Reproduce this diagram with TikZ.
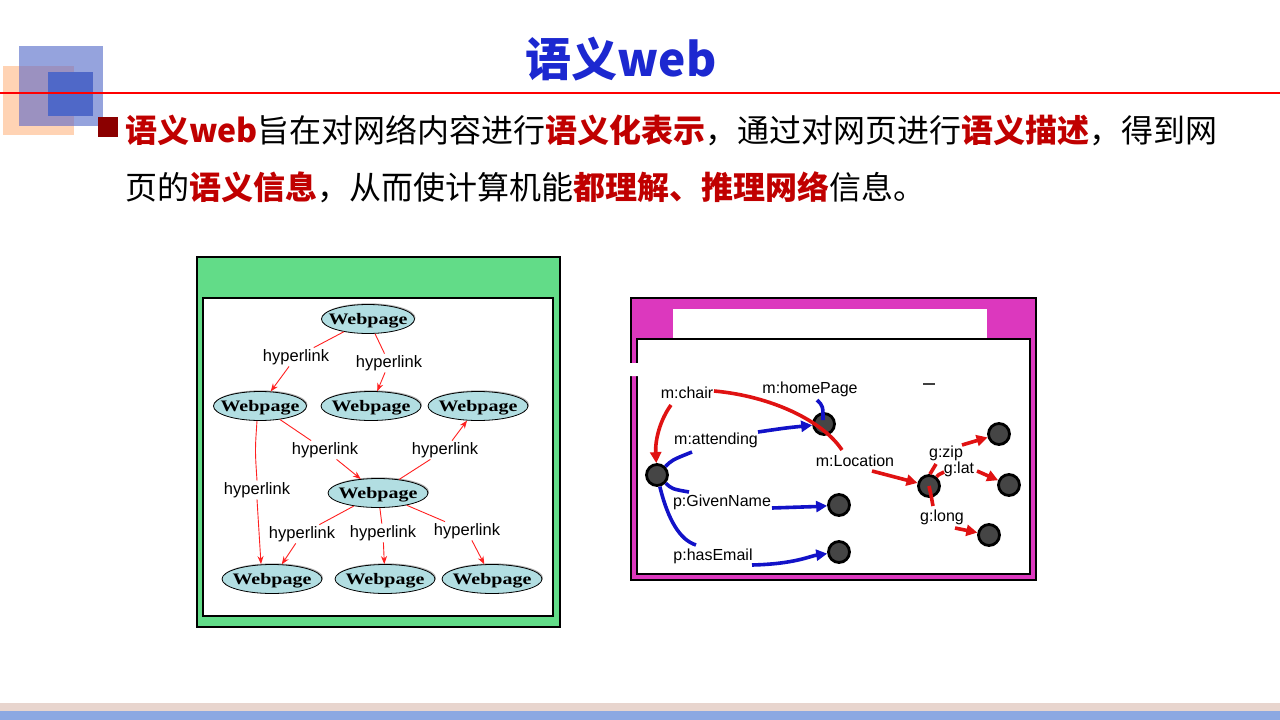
\documentclass[tikz,border=0pt]{standalone}
\usepackage{fontspec}
\usepackage{graphicx}
\setmainfont{Noto Sans CJK SC}
\newfontfamily\arialf{Liberation Sans}
\newfontfamily\serifb{Liberation Serif}
\usetikzlibrary{arrows.meta,shapes.geometric,shadows,calc}

\definecolor{titleblue}{HTML}{1C28D0}
\definecolor{keyred}{HTML}{C00000}
\definecolor{bulletred}{HTML}{8B0000}
\definecolor{peach}{HTML}{FFD3B4}
\definecolor{lightblue}{HTML}{95A3DD}
\definecolor{mixblue}{HTML}{9B91C0}
\definecolor{darkblue}{HTML}{4F68C8}
\definecolor{panelgreen}{HTML}{62DC88}
\definecolor{panelmagenta}{HTML}{DC38BE}
\definecolor{pagefill}{HTML}{B2DEE2}
\definecolor{linkred}{HTML}{FF2020}
\definecolor{rdfred}{HTML}{E01212}
\definecolor{rdfblue}{HTML}{1212C8}
\definecolor{nodegray}{HTML}{454545}
\definecolor{barbeige}{HTML}{E8D5CE}
\definecolor{barblue}{HTML}{8CA8E2}

\tikzset{
  page/.style={ellipse, draw=black, line width=0.8pt, fill=pagefill,
    minimum height=29pt, inner sep=0pt,
    drop shadow={shadow xshift=1pt, shadow yshift=1.2pt, opacity=0.6},
    font=\serifb\bfseries\fontsize{16}{16}\selectfont},
  linklabel/.style={inner sep=1.5pt, font=\arialf\fontsize{16.5}{16.5}\selectfont},
  link/.style={draw=linkred, line width=0.9pt},
  linkarrow/.style={link, -{Stealth[length=8pt,width=6pt]}},
  rdfnode/.style={circle, fill=nodegray, draw=black, line width=2.8pt,
    minimum size=21pt, inner sep=0pt},
  rdflabel/.style={inner sep=0pt, font=\arialf\fontsize{16}{16}\selectfont},
  redlink/.style={draw=rdfred, line width=3.6pt},
  bluelink/.style={draw=rdfblue, line width=3.6pt},
  tip/.style={-{Triangle[length=11pt,width=11pt]}},
  bodytext/.style={anchor=base west, inner sep=0pt, font=\fontsize{32}{32}\selectfont},
}

% label of a page node: an empty box, so the ellipse keeps its given size
% and the capitals sit on the ellipse's centre line
\newcommand{\webpage}{\makebox[0pt]{\raisebox{-5pt}[0pt][0pt]{\scalebox{1.25}[1]{Webpage}}}}
\newcommand{\key}[1]{\textcolor{keyred}{\bfseries #1}}

\begin{document}
\begin{tikzpicture}[x=1pt,y=-1pt]
\useasboundingbox (0,0) rectangle (1280,720);
\fill[white] (0,0) rectangle (1280,720);

% corner ornament
\fill[peach] (3,66) rectangle (74,135);
\fill[lightblue] (19,46) rectangle (103,126);
\fill[mixblue] (19,66) rectangle (74,126);
\fill[darkblue] (48,72) rectangle (93,116);
\draw[red, line width=2.6pt] (0,93) -- (1280,93);

% title
\node[font=\fontsize{46}{46}\selectfont\bfseries, text=titleblue] (title) at (621,59) {语义web};

% bullet text
\fill[bulletred] (98,117) rectangle (118,137);
\node[bodytext] (line1) at (125,142)
  {\key{语义web}旨在对网络内容进行\key{语义化表示}，通过对网页进行\key{语义描述}，得到网};
\node[bodytext] (line2) at (125,199)
  {页的\key{语义信息}，从而使计算机能\key{都理解、推理网络}信息。};

% ---------- hyperlink graph ----------
\draw[black, line width=1.6pt, fill=panelgreen] (197,257) rectangle (560,627);
\draw[black, line width=2.2pt, fill=white] (203,298) rectangle (553,616);

\node[page, minimum width=93pt]  (w0) at (368,319) {\webpage};
\node[page, minimum width=93pt]  (w1) at (260,406) {\webpage};
\node[page, minimum width=100pt] (w2) at (371,406) {\webpage};
\node[page, minimum width=100pt] (w3) at (478,406) {\webpage};
\node[page, minimum width=100pt] (w4) at (378,493) {\webpage};
\node[page, minimum width=100pt] (w5) at (272,579) {\webpage};
\node[page, minimum width=100pt] (w6) at (385,579) {\webpage};
\node[page, minimum width=100pt] (w7) at (492,579) {\webpage};

\node[linklabel] (h1) at (296,357) {hyperlink};
\node[linklabel] (h2) at (389,363) {hyperlink};
\node[linklabel] (h3) at (325,450) {hyperlink};
\node[linklabel] (h4) at (445,450) {hyperlink};
\node[linklabel] (h5) at (257,490) {hyperlink};
\node[linklabel] (h6) at (302,534) {hyperlink};
\node[linklabel] (h7) at (383,533) {hyperlink};
\node[linklabel] (h8) at (467,531) {hyperlink};

\draw[link] (w0) -- (h1);  \draw[linkarrow] (h1) -- (w1);
\draw[link] (w0) -- (h2);  \draw[linkarrow] (h2) -- (w2);
\draw[link] (w1) -- (h3);  \draw[linkarrow] (h3) -- (w4);
\draw[link] (w4) -- (h4);  \draw[linkarrow] (h4) -- (w3);
\draw[link] ([xshift=-3pt]w1.south) .. controls (255,450) .. (h5.north);
\draw[linkarrow] (h5.south) -- ([xshift=-11pt]w5.north);
\draw[link] (w4) -- (h6);  \draw[linkarrow] (h6) -- (w5);
\draw[link] (w4) -- (h7);  \draw[linkarrow] (h7) -- (w6);
\draw[link] (w4) -- (h8);  \draw[linkarrow] (h8) -- (w7);

% ---------- RDF graph ----------
\draw[black, line width=1.6pt, fill=panelmagenta] (631,298) rectangle (1036,580);
\draw[black, line width=2.2pt, fill=white] (637,339) rectangle (1030,574);
\fill[white] (629,363) -- (700,364) -- (700,376) -- (629,376) -- cycle;
\fill[white] (673,309) rectangle (987,338);

\node[rdfnode] (na) at (657,475) {};
\node[rdfnode] (nb) at (824,424) {};
\node[rdfnode] (nc) at (839,505) {};
\node[rdfnode] (nd) at (839,552) {};
\node[rdfnode] (ne) at (929,486) {};
\node[rdfnode] (nf) at (999,434) {};
\node[rdfnode] (ng) at (1009,485) {};
\node[rdfnode] (nh) at (989,535) {};

\draw[black!75, line width=1.6pt] (923,384) -- (935,384);

\node[rdflabel] (lchair) at (687,393) {m:chair};
\node[rdflabel] (lhome) at (810,389) {m:homePage};
\node[rdflabel] (latt) at (716,440) {m:attending};
\node[rdflabel] (lloc) at (855,461) {m:Location};
\node[rdflabel] (lgiven) at (722,502) {p:GivenName};
\node[rdflabel] (lmail) at (713,556) {p:hasEmail};
\node[rdflabel] (lzip) at (946,453) {g:zip};
\node[rdflabel] (llat) at (959,469) {g:lat};
\node[rdflabel] (llong) at (942,517) {g:long};

% free ends of the edges
\coordinate (chairA) at (671,405);
\coordinate (chairB) at (714,391);
\coordinate (chairC) at (842,450);
\coordinate (attA) at (758,432);
\coordinate (homeA) at (817,400);
\coordinate (homeB) at (823,420);
\coordinate (blueA) at (692,452);
\coordinate (blueB) at (689,492);
\coordinate (blueC) at (696,545);
\coordinate (givenA) at (772,508);
\coordinate (mailA) at (752,565);
\coordinate (locA) at (872,471);
\coordinate (zipA) at (962,445);
\coordinate (latA) at (977,471);
\coordinate (longA) at (955,528);
\coordinate (zipS) at (936,464);
\coordinate (latS) at (944,472);
\coordinate (longS) at (933,506);

\draw[bluelink] (na) .. controls (672,460) .. (blueA);
\draw[bluelink] (na) .. controls (672,489) .. (blueB);
\draw[bluelink] (na) .. controls (668,520) and (680,540) .. (blueC);
\draw[redlink, tip] (chairA) .. controls (660,420) and (655,440) .. (na);
\draw[bluelink, tip] (attA) .. controls (785,428) .. (nb);
\draw[bluelink, tip] (givenA) .. controls (795,508) .. (nc);
\draw[bluelink, tip] (mailA) .. controls (795,564) and (810,556) .. (nd);
\draw[redlink] (chairB) .. controls (770,396) and (822,420) .. (chairC);
\draw[bluelink] (homeA) .. controls (823,406) .. (homeB);
\draw[redlink, tip] (locA) -- (ne);
\draw[redlink, tip] (zipA) -- (nf);
\draw[redlink, tip] (latA) -- (ng);
\draw[redlink, tip] (longA) -- (nh);
\draw[redlink] (ne) .. controls (930,474) .. (zipS);
\draw[redlink] (ne) .. controls (938,475) .. (latS);
\draw[redlink] (ne.center) .. controls (931,495) .. (longS);

% footer bars
\fill[barbeige] (0,703) rectangle (1280,711);
\fill[barblue] (0,711) rectangle (1280,720);
\end{tikzpicture}
\end{document}
